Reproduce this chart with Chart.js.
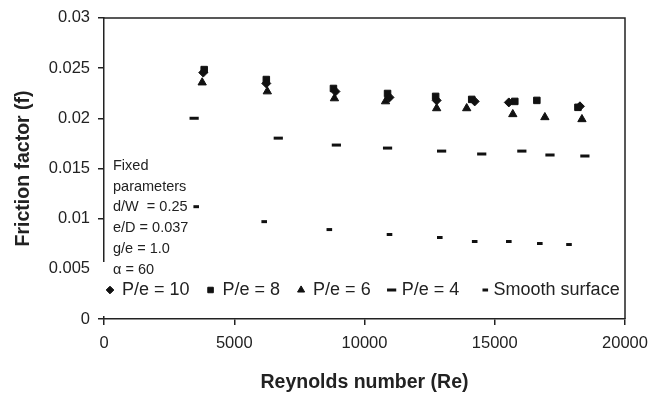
<!DOCTYPE html>
<html>
<head>
<meta charset="utf-8">
<script src="https://cdn.jsdelivr.net/npm/chart.js@4"></script>
<style>
  body { margin: 0; background: #fff; }
  #wrap { width: 664px; height: 397px; }
</style>
</head>
<body>
<div id="wrap"><canvas id="mycanvas" width="664" height="397"></canvas></div>
<script>
// Reynolds number / friction factor readings
var reP10 = [3810, 6230, 8885, 10960, 12770, 14230, 15540, 18270];
var fP10 = [0.02455, 0.02347, 0.02267, 0.02208, 0.02178, 0.02168, 0.02158, 0.02119];

var reP8 = [3846, 6231, 8808, 10885, 12731, 14115, 15770, 16616, 18193];
var fP8 = [0.02485, 0.02386, 0.02297, 0.02247, 0.02218, 0.02188, 0.02168, 0.02178, 0.02109];

var reP6 = [3769, 6269, 8846, 10808, 12770, 13923, 15693, 16924, 18347];
var fP6 = [0.02356, 0.02267, 0.02198, 0.02168, 0.02099, 0.02099, 0.02040, 0.02010, 0.01990];

var reP4 = [3460, 6690, 8920, 10885, 12960, 14500, 16040, 17120, 18460];
var fP4 = [0.02000, 0.01802, 0.01733, 0.01703, 0.01673, 0.01644, 0.01673, 0.01634, 0.01624];

var reSmooth = [3540, 6150, 8650, 10960, 12890, 14230, 15540, 16730, 17850];
var fSmooth = [0.01119, 0.00970, 0.00891, 0.00842, 0.00812, 0.00772, 0.00772, 0.00752, 0.00742];

var seriesLabels = ['P/e = 10', 'P/e = 8', 'P/e = 6', 'P/e = 4', 'Smooth surface'];
var xTickLabels = ['0', '5000', '10000', '15000', '20000'];
var yTickLabels = ['0', '0.005', '0.01', '0.015', '0.02', '0.025', '0.03'];
var noteLines = ['Fixed', 'parameters', 'd/W  = 0.25', 'e/D = 0.037', 'g/e = 1.0', '\u03b1 = 60'];

var FONT = "'Liberation Sans', Arial, sans-serif";
var INK = '#111';

function pts(xs, ys) {
    var out = [];
    for (var i in xs) {
        out.push({x: xs[i], y: ys[i]});
    }
    return out;
}

function series(label, xs, ys, style, r, bw) {
    return {
        label: label,
        data: pts(xs, ys),
        pointStyle: style,
        pointRadius: r,
        pointHoverRadius: r,
        pointBorderWidth: bw,
        backgroundColor: INK,
        borderColor: INK,
        showLine: false
    };
}

var chartdata = {
    datasets: [
        series(seriesLabels[0], reP10, fP10, 'rectRot', 4.5, 1),
        series(seriesLabels[1], reP8, fP8, 'rect', 4.6, 1),
        series(seriesLabels[2], reP6, fP6, 'triangle', 4.8, 1),
        series(seriesLabels[3], reP4, fP4, 'line', 4.6, 3),
        series(seriesLabels[4], reSmooth, fSmooth, 'line', 2.8, 3)
    ]
};

// box lines, note text and legend drawn over the plot
var overlay = {
    id: 'overlay',
    afterDraw: function (chart) {
        var ctx = chart.ctx;
        var a = chart.chartArea;
        ctx.save();

        ctx.strokeStyle = '#222';
        ctx.lineWidth = 1.5;
        ctx.beginPath();
        ctx.moveTo(a.left, a.top);
        ctx.lineTo(a.right, a.top);
        ctx.lineTo(a.right, a.bottom);
        ctx.stroke();

        // white note box hides the lower part of the y axis
        ctx.fillStyle = '#fff';
        ctx.fillRect(94, 262, 16, 54);

        ctx.fillStyle = '#222';
        ctx.font = '14.5px ' + FONT;
        ctx.textAlign = 'left';
        ctx.textBaseline = 'middle';
        for (var i = 0; i < noteLines.length; i++) {
            ctx.fillText(noteLines[i], 113, 166 + i * 20.7);
        }

        // legend row
        ctx.font = '18px ' + FONT;
        var x = 110;
        var y = 290;
        chart.data.datasets.forEach(function (ds, k) {
            ctx.fillStyle = INK;
            ctx.strokeStyle = INK;
            ctx.lineWidth = ds.pointBorderWidth;
            var r = ds.pointRadius;
            Chart.helpers.drawPoint(ctx, {
                pointStyle: ds.pointStyle,
                radius: ds.pointStyle === 'line' ? r : r * 0.85,
                rotation: 0,
                borderWidth: ds.pointBorderWidth
            }, x, y);
            var tx = ds.pointStyle === 'line' ? x + r + 5.5 : x + 12;
            ctx.fillStyle = '#222';
            ctx.fillText(ds.label, tx, y);
            x = tx + ctx.measureText(ds.label).width + (k === 3 ? 26 : 21);
        });
        ctx.restore();
    }
};

var ctx = document.getElementById('mycanvas');
var scatter = new Chart(ctx, {
    type: 'scatter',
    data: chartdata,
    plugins: [overlay],
    options: {
        responsive: false,
        animation: false,
        events: [],
        layout: {padding: {top: 16, right: 39, left: 0, bottom: 0}},
        plugins: {
            legend: {display: false},
            tooltip: {enabled: false}
        },
        scales: {
            x: {
                type: 'linear',
                min: 0,
                max: 20000,
                afterFit: function (scale) { scale.height = 78; },
                ticks: {
                    stepSize: 5000,
                    padding: 9,
                    color: '#222',
                    font: {family: FONT, size: 16.5},
                    maxRotation: 0,
                    callback: function (v, i) { return xTickLabels[i]; }
                },
                grid: {drawOnChartArea: false, drawTicks: true, tickLength: 6, color: '#222', lineWidth: 1.5},
                border: {display: true, color: '#222', width: 1.5},
                title: {
                    display: true,
                    text: 'Reynolds number (Re)',
                    color: '#222',
                    font: {family: FONT, size: 19.5, weight: 'bold'},
                    padding: {top: 0, bottom: 3}
                }
            },
            y: {
                type: 'linear',
                min: 0,
                max: 0.03,
                afterFit: function (scale) { scale.width = 104; },
                ticks: {
                    stepSize: 0.005,
                    padding: 8,
                    color: '#222',
                    font: {family: FONT, size: 16.5},
                    callback: function (v) { return yTickLabels[Math.round(v / 0.005)]; }
                },
                grid: {drawOnChartArea: false, drawTicks: true, tickLength: 6, color: '#222', lineWidth: 1.5},
                border: {display: true, color: '#222', width: 1.5},
                title: {
                    display: true,
                    text: 'Friction factor (f)',
                    color: '#222',
                    font: {family: FONT, size: 19.5, weight: 'bold'},
                    padding: {top: 12, bottom: 0}
                }
            }
        }
    }
});
</script>
</body>
</html>
